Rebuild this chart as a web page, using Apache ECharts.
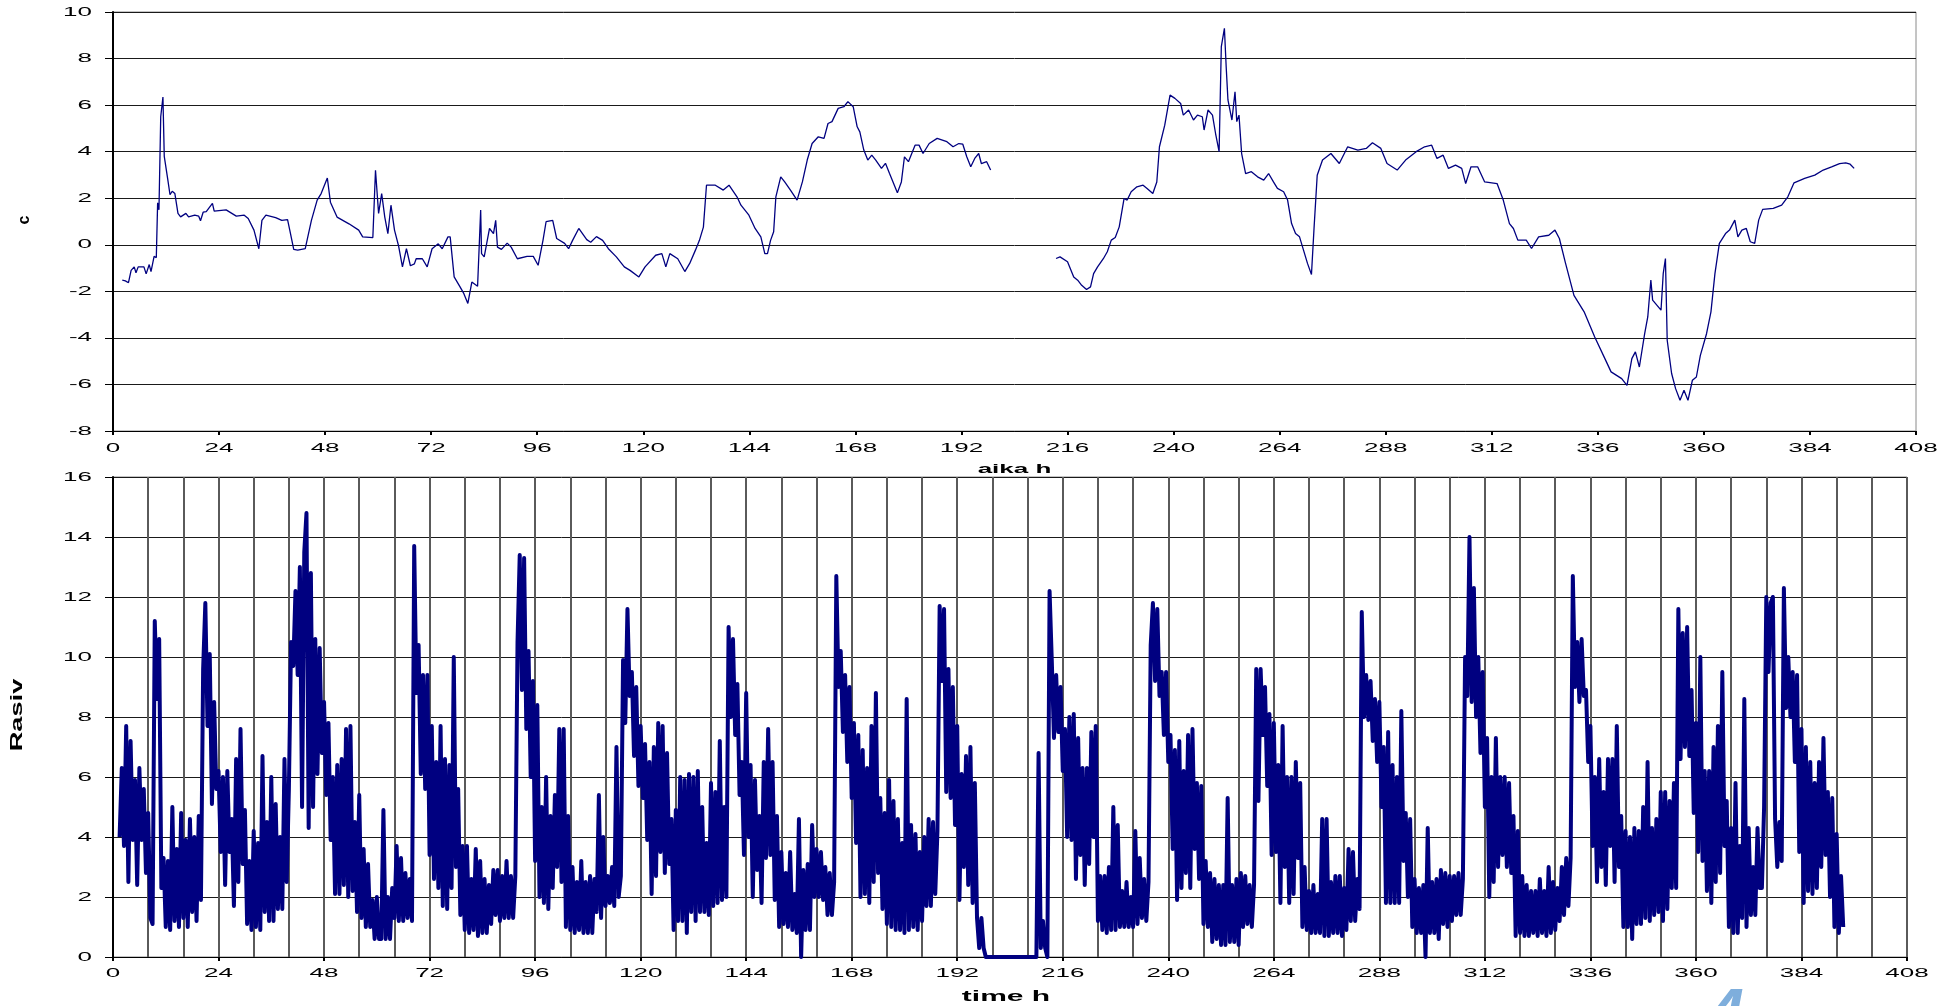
<!DOCTYPE html>
<html>
<head>
<meta charset="utf-8">
<script src="https://cdn.jsdelivr.net/npm/echarts@6/dist/echarts.min.js"></script>
<style>
  html, body { margin: 0; padding: 0; background: #ffffff; }
  #main { width: 1951px; height: 1006px; }
</style>
</head>
<body>
<div id="main"></div>
<script>
// Tick labels
const hourTicks = [0, 24, 48, 72, 96, 120, 144, 168, 192, 216, 240, 264, 288, 312, 336, 360, 384, 408];
const cTicks = [-8, -6, -4, -2, 0, 2, 4, 6, 8, 10];
const powerTicks = [0, 2, 4, 6, 8, 10, 12, 14, 16];

// Upper panel: c against time (h); null marks the break in logging
const topHours = [
  2.1, 2.8, 3.5, 4.1, 4.8, 5.2, 5.7, 7.0, 7.5, 8.2, 8.6, 9.3, 9.8, 10.1, 10.4, 10.8, 11.3, 11.6, 12.4, 12.9,
  13.4, 14.0, 14.7, 15.3, 16.5, 17.1, 18.5, 19.4, 19.8, 20.4, 21.1, 22.5, 22.9, 25.6, 27.9, 29.7, 30.6, 31.9, 33.0, 33.7,
  34.6, 36.8, 38.2, 39.5, 40.0, 40.9, 41.8, 43.5, 44.9, 46.2, 47.1, 48.5, 49.2, 50.7, 53.4, 55.6, 56.5, 58.8, 59.4, 60.1,
  60.8, 61.5, 62.2, 62.9, 63.7, 64.6, 65.5, 66.4, 67.3, 68.2, 68.6, 70.0, 71.1, 72.2, 73.6, 74.5, 75.8, 76.3, 77.2, 78.5,
  79.4, 80.3, 81.2, 82.5, 83.2, 83.4, 84.0, 85.2, 86.1, 86.6, 87.0, 87.9, 89.2, 90.1, 91.5, 93.7, 95.1, 96.2, 97.3, 98.0,
  99.5, 100.4, 102.2, 103.1, 104.0, 105.4, 107.2, 108.1, 109.4, 110.8, 112.1, 113.9, 115.7, 117.0, 119.0, 120.4, 122.8, 124.2, 125.1, 126.0,
  127.8, 129.4, 130.5, 131.8, 132.7, 133.6, 134.3, 136.3, 138.1, 139.4, 141.2, 142.1, 143.9, 145.3, 146.6, 147.5, 148.1, 148.8, 149.5, 150.0,
  151.1, 152.0, 153.3, 154.8, 156.0, 157.1, 158.2, 159.6, 160.9, 161.8, 162.7, 164.1, 165.4, 166.3, 167.5, 168.4, 169.0, 169.9, 170.8, 171.7,
  172.6, 173.9, 174.8, 175.7, 177.5, 178.4, 179.1, 180.0, 181.5, 182.4, 183.3, 184.7, 186.5, 188.7, 190.1, 191.4, 192.3, 193.2, 194.1, 195.0,
  195.9, 196.5, 197.7, 198.6, 205.0,
  213.4, 214.3, 216.0, 217.4, 218.3, 219.2, 220.3, 221.2, 221.9, 222.8, 224.1, 225.0, 225.9, 226.8, 227.7, 228.8, 229.5, 230.4, 231.7, 233.1,
  234.0, 235.3, 236.2, 236.8, 238.0, 239.2, 240.3, 241.6, 242.2, 243.4, 244.5, 245.4, 246.5, 246.9, 247.8, 248.8, 249.5, 250.3, 250.8, 251.5,
  251.9, 252.3, 253.2, 253.9, 254.3, 254.8, 255.4, 256.3, 257.6, 259.0, 260.4, 261.5, 262.6, 263.5, 264.9, 265.8, 266.7, 267.6, 268.5, 269.4,
  270.3, 271.2, 271.8, 272.5, 273.7, 275.6, 277.5, 279.4, 281.7, 283.6, 285.0, 286.9, 288.3, 290.6, 292.5, 294.9, 296.8, 298.4, 299.6, 301.0,
  302.2, 303.8, 305.2, 306.1, 307.3, 308.8, 310.4, 313.2, 314.6, 316.0, 316.9, 317.9, 319.8, 321.0, 322.6, 324.9, 326.3, 327.3, 328.7, 330.6,
  332.9, 335.3, 337.6, 339.0, 341.4, 342.6, 343.7, 344.5, 345.4, 346.6, 347.3, 348.0, 348.4, 349.4, 350.3, 350.8, 351.3, 351.7, 352.7, 353.6,
  354.6, 355.5, 356.4, 357.4, 358.3, 359.2, 360.6, 361.6, 362.5, 363.5, 364.9, 365.8, 367.0, 367.7, 368.6, 369.6, 370.5, 371.5, 372.4, 373.3,
  375.7, 377.6, 379.0, 380.4, 382.8, 385.1, 387.0, 388.9, 390.7, 392.1, 393.1, 394.0
];
const topC = [
  -1.52, -1.55, -1.63, -1.1, -0.95, -1.2, -0.95, -0.95, -1.25, -0.85, -1.15, -0.5, -0.55, 1.8, 1.5, 5.5, 6.35, 3.8, 2.8, 2.15,
  2.3, 2.2, 1.35, 1.2, 1.35, 1.2, 1.27, 1.23, 1.03, 1.4, 1.42, 1.78, 1.45, 1.5, 1.23, 1.27, 1.13, 0.63, -0.17, 1.05,
  1.27, 1.17, 1.05, 1.08, 0.63, -0.2, -0.23, -0.17, 1.05, 1.92, 2.2, 2.87, 1.83, 1.19, 0.9, 0.63, 0.34, 0.31, 3.2, 1.35,
  2.2, 1.19, 0.48, 1.7, 0.63, -0.03, -0.95, -0.17, -0.9, -0.82, -0.6, -0.6, -0.95, -0.17, 0.04, -0.17, 0.34, 0.34, -1.38, -1.8,
  -2.1, -2.52, -1.6, -1.78, 1.49, -0.38, -0.52, 0.7, 0.48, 1.05, -0.1, -0.2, 0.07, -0.1, -0.6, -0.5, -0.5, -0.88, 0.19, 0.99,
  1.05, 0.27, 0.06, -0.17, 0.19, 0.7, 0.22, 0.11, 0.35, 0.19, -0.17, -0.52, -0.95, -1.1, -1.38, -0.95, -0.45, -0.38, -0.95, -0.38,
  -0.6, -1.15, -0.8, -0.23, 0.19, 0.76, 2.56, 2.56, 2.35, 2.56, 2.06, 1.7, 1.27, 0.7, 0.34, -0.38, -0.38, 0.19, 0.56, 2.06,
  2.92, 2.7, 2.35, 1.92, 2.7, 3.64, 4.35, 4.64, 4.57, 5.21, 5.29, 5.86, 5.93, 6.15, 5.93, 5.07, 4.85, 4.07, 3.64, 3.85,
  3.64, 3.28, 3.5, 3.07, 2.23, 2.7, 3.78, 3.57, 4.28, 4.28, 3.92, 4.35, 4.57, 4.43, 4.21, 4.35, 4.32, 3.78, 3.35, 3.71,
  3.92, 3.49, 3.57, 3.21, null,
  -0.59, -0.52, -0.73, -1.38, -1.52, -1.74, -1.92, -1.81, -1.24, -0.95, -0.6, -0.3, 0.2, 0.31, 0.77, 1.99, 1.92, 2.28, 2.49, 2.56,
  2.42, 2.2, 2.7, 4.21, 5.14, 6.43, 6.29, 6.07, 5.57, 5.79, 5.36, 5.57, 5.5, 4.93, 5.79, 5.57, 4.78, 4.0, 8.51, 9.3,
  7.65, 6.22, 5.36, 6.57, 5.29, 5.57, 3.92, 3.06, 3.14, 2.92, 2.78, 3.06, 2.7, 2.42, 2.28, 1.92, 0.91, 0.48, 0.34, -0.23,
  -0.8, -1.28, 0.77, 2.99, 3.64, 3.92, 3.49, 4.21, 4.07, 4.14, 4.38, 4.14, 3.49, 3.21, 3.64, 4.0, 4.21, 4.28, 3.71, 3.85,
  3.28, 3.42, 3.28, 2.63, 3.35, 3.35, 2.7, 2.63, 1.92, 0.91, 0.7, 0.2, 0.2, -0.16, 0.34, 0.41, 0.63, 0.27, -0.8, -2.17,
  -2.88, -3.96, -4.89, -5.46, -5.75, -6.04, -4.89, -4.6, -5.25, -3.82, -3.1, -1.52, -2.38, -2.6, -2.81, -1.24, -0.59, -4.1, -5.53, -6.18,
  -6.68, -6.25, -6.68, -5.82, -5.68, -4.75, -3.82, -2.88, -1.24, 0.06, 0.48, 0.63, 1.06, 0.34, 0.63, 0.7, 0.13, 0.06, 1.06, 1.52,
  1.56, 1.7, 2.06, 2.66, 2.85, 2.99, 3.21, 3.35, 3.49, 3.52, 3.46, 3.28
];

// Lower panel: logged power, one reading every half hour from 1.5 h on
const powerStart = 1.5;
const powerStep = 0.5;
const powerValues = [
  4.0,
  6.3, 3.7, 7.7, 2.5, 7.2, 3.9, 5.9, 2.4, 6.3, 3.9, 5.6, 2.8, 4.8, 1.3, 1.1, 11.2, 8.6, 10.6, 2.3, 3.3,
  1.0, 3.2, 0.9, 5.0, 1.2, 3.6, 1.0, 4.8, 1.3, 3.9, 1.0, 4.6, 1.5, 4.0, 1.2, 4.7, 1.9, 9.6, 11.8, 7.7,
  10.1, 5.1, 8.5, 5.6, 6.2, 3.5, 6.0, 2.4, 6.2, 3.5, 4.6, 1.7, 6.6, 2.5, 7.6, 3.1, 4.9, 1.1, 3.2, 0.9,
  4.2, 1.0, 3.8, 0.9, 6.7, 1.5, 4.5, 1.2, 6.0, 1.2, 5.1, 1.6, 4.0, 1.6, 6.6, 2.5, 5.6, 10.5, 9.7, 12.2,
  9.4, 13.0, 5.0, 13.5, 14.8, 4.3, 12.8, 5.0, 10.6, 6.1, 10.3, 6.8, 8.5, 5.4, 7.8, 3.9, 6.0, 2.1, 6.4, 2.1,
  6.6, 2.4, 7.6, 2.0, 7.7, 2.2, 4.5, 1.5, 5.4, 1.3, 3.6, 1.0, 3.1, 1.0, 1.9, 0.6, 2.0, 0.6, 0.6, 4.9,
  0.6, 2.0, 0.6, 2.3, 1.3, 3.7, 1.2, 3.3, 1.2, 2.8, 1.3, 2.6, 1.2, 13.7, 8.8, 10.4, 6.1, 9.4, 5.6, 9.4,
  3.4, 7.7, 2.6, 6.5, 2.3, 7.7, 1.7, 6.6, 1.6, 6.4, 2.3, 10.0, 3.0, 5.6, 1.4, 3.7, 0.9, 3.7, 0.8, 2.6,
  0.9, 3.6, 0.7, 3.2, 0.8, 2.6, 0.8, 2.4, 1.1, 2.9, 1.4, 2.9, 1.2, 2.7, 1.3, 3.2, 1.3, 2.7, 1.3, 2.7,
  10.5, 13.4, 8.9, 13.3, 7.6, 10.2, 6.0, 9.2, 3.2, 8.4, 2.0, 5.0, 1.8, 6.0, 1.6, 4.7, 2.3, 5.4, 3.0, 7.6,
  2.5, 7.6, 1.0, 4.7, 0.9, 3.0, 0.8, 2.5, 0.9, 3.2, 0.8, 2.5, 0.8, 2.7, 0.8, 2.6, 1.5, 5.4, 1.3, 4.0,
  1.7, 2.7, 1.8, 3.0, 1.7, 7.0, 2.0, 2.7, 9.9, 7.8, 11.6, 8.7, 9.5, 6.7, 9.0, 5.7, 7.7, 5.3, 7.1, 3.9,
  6.5, 2.1, 7.0, 2.7, 7.8, 3.5, 7.7, 2.8, 6.8, 3.1, 4.6, 0.9, 4.9, 1.2, 6.0, 1.2, 5.9, 0.8, 6.1, 1.5,
  6.0, 1.2, 6.2, 1.5, 5.0, 1.5, 3.8, 1.4, 5.8, 1.7, 5.5, 1.8, 7.2, 1.9, 5.0, 2.0, 11.0, 8.0, 10.6, 7.4,
  9.1, 5.4, 6.5, 3.4, 8.8, 4.0, 6.4, 2.0, 5.9, 2.9, 4.7, 1.8, 6.5, 3.3, 7.6, 3.4, 6.5, 1.9, 4.7, 1.0,
  3.5, 1.1, 2.8, 1.0, 3.5, 0.9, 2.1, 0.8, 4.6, 0.0, 2.9, 0.9, 3.1, 0.9, 4.4, 2.0, 3.6, 2.0, 3.5, 1.9,
  3.0, 1.4, 2.8, 1.4, 2.5, 12.7, 9.0, 10.2, 7.5, 9.4, 6.5, 9.0, 5.3, 7.8, 3.8, 7.4, 2.0, 6.9, 2.1, 6.3,
  1.8, 7.7, 2.5, 8.8, 2.8, 5.3, 1.6, 4.8, 1.1, 5.9, 1.0, 5.2, 0.9, 4.6, 0.9, 3.8, 0.8, 8.6, 0.9, 4.4,
  1.0, 4.1, 0.9, 3.5, 1.2, 4.0, 1.7, 4.6, 1.7, 4.5, 2.1, 4.2, 11.7, 9.2, 11.6, 5.5, 9.6, 5.3, 9.0, 4.4,
  7.7, 1.9, 6.1, 3.0, 6.7, 2.4, 7.0, 1.8, 5.8, 1.3, 0.3, 1.3, 0.3, 0.0,
  0.0, 0.0, 0.0, 0.0, 0.0, 0.0, 0.0, 0.0, 0.0, 0.0, 0.0, 0.0, 0.0, 0.0, 0.0, 0.0, 0.0, 0.0, 0.0, 0.0, 0.0, 0.0,
  0.0, 6.8, 0.3, 1.2, 0.3, 0.0,
  12.2, 9.9, 7.3, 9.4, 7.5, 9.0, 6.2, 7.6, 4.0, 8.0, 3.9, 8.1, 2.6, 7.3, 3.4, 6.3, 2.4, 6.3, 3.1, 7.5,
  4.0, 7.7, 1.2, 2.7, 0.9, 2.7, 0.8, 3.0, 0.9, 5.0, 0.9, 4.4, 1.0, 2.2, 1.0, 2.5, 1.0, 2.0, 1.0, 4.2,
  1.1, 3.3, 1.3, 2.6, 1.2, 2.5, 10.4, 11.8, 9.2, 11.6, 8.7, 9.5, 7.4, 9.5, 6.5, 7.4, 3.6, 6.9, 1.9, 7.2,
  2.3, 6.2, 2.8, 7.4, 2.3, 7.6, 3.6, 5.8, 2.6, 5.7, 1.1, 3.2, 1.0, 2.8, 0.5, 2.6, 0.6, 2.4, 0.4, 2.4,
  0.4, 5.3, 0.5, 2.4, 0.5, 2.6, 0.4, 2.8, 1.0, 2.7, 1.1, 2.4, 1.0, 2.4, 9.6, 5.2, 9.6, 7.4, 9.0, 5.7,
  8.1, 3.4, 7.8, 3.5, 6.4, 1.8, 7.7, 3.0, 6.0, 1.8, 6.0, 2.1, 6.5, 3.3, 5.8, 1.0, 3.0, 0.9, 2.2, 0.8,
  2.4, 0.8, 2.1, 0.8, 4.6, 0.7, 4.6, 0.7, 2.5, 0.8, 2.7, 0.8, 2.7, 0.7, 2.3, 0.9, 3.6, 1.2, 3.5, 1.2,
  2.6, 1.6, 11.5, 8.0, 9.4, 7.9, 9.2, 7.2, 8.6, 6.5, 8.5, 5.0, 7.0, 1.8, 7.5, 1.8, 6.4, 1.8, 6.0, 1.8,
  8.2, 3.2, 4.8, 2.0, 4.6, 1.0, 2.6, 0.8, 2.3, 0.8, 2.4, 0.0, 4.3, 0.8, 2.5, 0.8, 2.6, 0.6, 2.9, 1.1,
  2.8, 1.0, 2.7, 1.2, 2.7, 1.4, 2.8, 1.4, 2.6, 10.0, 8.7, 14.0, 8.5, 12.3, 8.0, 10.0, 6.8, 9.5, 5.0, 7.3,
  2.0, 6.0, 2.5, 7.3, 3.0, 6.0, 3.4, 6.0, 3.0, 5.8, 2.8, 4.7, 0.7, 4.2, 0.8, 2.7, 0.7, 2.4, 0.7, 2.2,
  0.8, 2.2, 0.7, 2.6, 0.8, 2.2, 0.7, 3.0, 0.8, 2.5, 0.9, 2.3, 1.2, 3.0, 1.4, 3.3, 1.7, 3.3, 12.7, 9.0,
  10.5, 8.5, 10.6, 8.7, 8.9, 6.5, 7.7, 3.7, 6.0, 2.5, 6.6, 3.0, 5.5, 2.4, 6.6, 3.7, 6.6, 2.5, 7.7, 3.0,
  4.7, 1.0, 4.2, 1.0, 4.0, 0.6, 4.3, 1.1, 4.2, 1.1, 5.0, 1.3, 6.5, 1.2, 4.3, 1.4, 4.6, 1.5, 5.5, 1.2,
  5.5, 1.6, 5.2, 2.3, 5.8, 2.3, 11.6, 6.6, 10.8, 7.0, 11.0, 6.7, 8.9, 4.8, 7.8, 3.5, 10.0, 3.2, 6.2, 2.2,
  6.2, 1.8, 7.0, 2.5, 7.7, 2.8, 9.5, 3.7, 5.2, 1.0, 4.3, 0.8, 5.8, 0.8, 3.7, 1.3, 8.6, 1.0, 4.3, 1.4,
  3.0, 1.4, 4.3, 2.3, 2.3, 5.0, 12.0, 9.5, 11.8, 12.0, 4.6, 3.0, 4.5, 3.2, 12.3, 8.3, 10.0, 8.0, 9.5, 6.5,
  9.4, 3.5, 7.6, 1.8, 7.0, 2.2, 6.5, 2.1, 5.8, 2.3, 6.5, 3.0, 7.3, 3.4, 5.5, 2.0, 5.3, 1.0, 4.1, 0.8,
  2.7, 1.0
];

const NAVY = '#000080';
const FONT = '"Liberation Sans", Arial, Helvetica, sans-serif';

const topSeries = topHours.map((h, i) => [h, topC[i]]);
const powerSeries = powerValues.map((v, i) => [powerStart + i * powerStep, v]);

const chart = echarts.init(document.getElementById('main'), null, { renderer: 'canvas' });

chart.setOption({
  animation: false,
  backgroundColor: '#ffffff',
  grid: [
    { left: 113, right: 35, top: 12, height: 419, show: true, borderColor: '#8a8a8a', borderWidth: 1 },
    { left: 113, right: 44, top: 477, height: 480, show: true, borderColor: '#8a8a8a', borderWidth: 1 }
  ],
  xAxis: [
    {
      gridIndex: 0, type: 'value', min: 0, max: 408, interval: 24,
      axisLine: { onZero: false, lineStyle: { color: '#000', width: 1 } },
      axisTick: { show: true, length: 4, lineStyle: { color: '#000', width: 2 } },
      axisLabel: { show: false },
      splitLine: { show: false }
    },
    {
      gridIndex: 1, type: 'value', min: 0, max: 408, interval: 24,
      axisLine: { onZero: false, lineStyle: { color: '#000', width: 1 } },
      axisTick: { show: true, length: 4, lineStyle: { color: '#000', width: 2 } },
      minorTick: { show: false, splitNumber: 3 },
      axisLabel: { show: false },
      splitLine: { show: true, lineStyle: { color: '#5a5a5a', width: 2 } },
      minorSplitLine: { show: true, lineStyle: { color: '#5a5a5a', width: 2 } }
    }
  ],
  yAxis: [
    {
      gridIndex: 0, type: 'value', min: -8, max: 10, interval: 2,
      axisLine: { show: true, onZero: false, lineStyle: { color: '#000', width: 2 } },
      axisTick: { show: true, length: 8, lineStyle: { color: '#000', width: 1 } },
      axisLabel: { show: false },
      splitLine: { show: true, lineStyle: { color: '#1a1a1a', width: 1 } }
    },
    {
      gridIndex: 1, type: 'value', min: 0, max: 16, interval: 2,
      axisLine: { show: true, onZero: false, lineStyle: { color: '#000', width: 2 } },
      axisTick: { show: true, length: 8, lineStyle: { color: '#000', width: 1 } },
      axisLabel: { show: false },
      splitLine: { show: true, lineStyle: { color: '#1a1a1a', width: 1 } }
    }
  ],
  series: [
    {
      type: 'line', xAxisIndex: 0, yAxisIndex: 0, data: topSeries,
      symbol: 'none', connectNulls: false, silent: true,
      lineStyle: { color: NAVY, width: 1.3 }
    },
    {
      type: 'line', xAxisIndex: 1, yAxisIndex: 1, data: powerSeries,
      symbol: 'none', silent: true,
      lineStyle: { color: NAVY, width: 4, join: 'round' }
    }
  ]
});

// Tick labels and titles are drawn as wide (horizontally stretched) text,
// placed with the axes' own data-to-pixel conversion.
function wideText(text, x, y, align, font, extra) {
  return Object.assign({
    type: 'text', x: x, y: y, scaleX: 2, silent: true, z: 100,
    style: {
      text: text, x: 0, y: 0,
      textAlign: align, align: align,
      textVerticalAlign: 'middle', verticalAlign: 'middle',
      font: font, fill: '#000000'
    }
  }, extra || {});
}

const tickFont = '13px ' + FONT;
const nameFont = 'bold 13px ' + FONT;
const graphics = [];

hourTicks.forEach(function (h) {
  const p0 = chart.convertToPixel({ seriesIndex: 0 }, [h, -8]);
  graphics.push(wideText(String(h), p0[0], p0[1] + 17, 'center', tickFont));
  const p1 = chart.convertToPixel({ seriesIndex: 1 }, [h, 0]);
  graphics.push(wideText(String(h), p1[0], p1[1] + 16, 'center', tickFont));
});
cTicks.forEach(function (v) {
  const p = chart.convertToPixel({ seriesIndex: 0 }, [0, v]);
  graphics.push(wideText(String(v), p[0] - 21, p[1], 'right', tickFont));
});
powerTicks.forEach(function (v) {
  const p = chart.convertToPixel({ seriesIndex: 1 }, [0, v]);
  graphics.push(wideText(String(v), p[0] - 21, p[1], 'right', tickFont));
});

// Axis titles
const topMid = chart.convertToPixel({ seriesIndex: 0 }, [204, -8]);
graphics.push(wideText('aika h', topMid[0], topMid[1] + 38.5, 'center', nameFont));
const botMid = chart.convertToPixel({ seriesIndex: 1 }, [204, 0]);
graphics.push(wideText('time h', botMid[0] - 4, botMid[1] + 40, 'center', 'bold 15px ' + FONT));

graphics.push({
  type: 'text', x: 25, y: 220, rotation: Math.PI / 2, silent: true,
  style: { text: 'c', x: 0, y: 0, textAlign: 'center', align: 'center', textVerticalAlign: 'middle', verticalAlign: 'middle', font: 'bold 16px ' + FONT, fill: '#000' }
});
graphics.push({
  type: 'text', x: 18, y: 715, rotation: Math.PI / 2, scaleX: 1.7, silent: true,
  style: { text: 'Rasiv', x: 0, y: 0, textAlign: 'center', align: 'center', textVerticalAlign: 'middle', verticalAlign: 'middle', font: 'bold 16px ' + FONT, fill: '#000' }
});

// Light blue glyph at the lower edge of the page
graphics.push({
  type: 'text', x: 1726, y: 1016, silent: true,
  style: { text: '4', x: 0, y: 0, textAlign: 'center', align: 'center', textVerticalAlign: 'middle', verticalAlign: 'middle', font: 'italic bold 64px ' + FONT, fill: '#7eaedc' }
});

chart.setOption({ graphic: graphics });
</script>
</body>
</html>
